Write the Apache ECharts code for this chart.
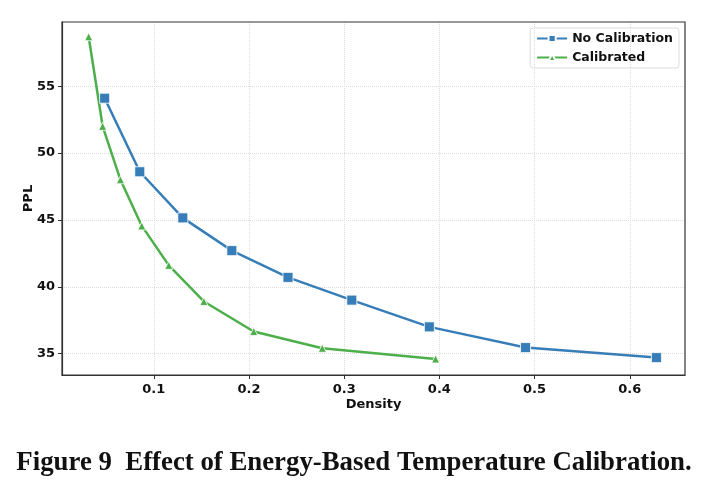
<!DOCTYPE html>
<html>
<head>
<meta charset="utf-8">
<script src="https://cdn.jsdelivr.net/npm/echarts@6/dist/echarts.min.js"></script>
<style>
  html, body { margin: 0; padding: 0; background: #fff; }
  #chart { width: 708px; height: 493px; }
</style>
</head>
<body>
<div id="chart"></div>
<script>
// values
const noCalibDensity = [0.0484, 0.0853, 0.1305, 0.182, 0.241, 0.308, 0.3895, 0.4905, 0.628];
const noCalibPPL = [54.1, 48.6, 45.15, 42.7, 40.7, 39.0, 37.0, 35.45, 34.7];
const calibDensity = [0.0316, 0.0463, 0.065, 0.0874, 0.1158, 0.1526, 0.205, 0.277, 0.396];
const calibPPL = [58.7, 52.0, 48.0, 44.55, 41.6, 38.9, 36.65, 35.4, 34.6];
const xTicks = [0.1, 0.2, 0.3, 0.4, 0.5, 0.6];
const yTicks = [35, 40, 45, 50, 55];

const chart = echarts.init(document.getElementById("chart"));

const font = "DejaVu Sans";
const zip = (xs, ys) => xs.map((x, i) => [x, ys[i]]);

const option = {
  animation: false,
  title: {
    text: "Figure 9  Effect of Energy-Based Temperature Calibration.",
    left: "center",
    top: 445,
    textStyle: {
      fontFamily: "Liberation Serif",
      fontWeight: "bold",
      fontSize: 26.8,
      color: "#111",
    },
  },
  legend: {
    right: 29,
    top: 28,
    orient: "vertical",
    itemWidth: 30,
    itemHeight: 9,
    itemGap: 6,
    padding: [4, 6, 4, 6],
    borderColor: "#ddd",
    borderWidth: 1,
    borderRadius: 3,
    textStyle: { fontFamily: font, fontWeight: "bold", fontSize: 12.5, color: "#111" },
    data: ["No Calibration", "Calibrated"],
  },
  grid: { left: 62, right: 23, top: 22, bottom: 118 },
  xAxis: {
    type: "value",
    min: 0.0036,
    max: 0.658,
    name: "Density",
    nameLocation: "middle",
    nameGap: 23,
    nameMoveOverlap: false,
    nameTextStyle: { fontFamily: font, fontWeight: "bold", fontSize: 13, color: "#111" },
    axisLine: { show: true, lineStyle: { color: "#333", width: 1.2 } },
    axisTick: { show: true, length: 4, customValues: xTicks, lineStyle: { color: "#333" } },
    axisLabel: {
      customValues: xTicks,
      fontFamily: font, fontWeight: "bold", fontSize: 13, color: "#111", margin: 8,
      formatter: (v) => v.toFixed(1),
    },
    splitLine: { show: true, lineStyle: { color: "#ddd", type: "dotted", width: 1 } },
  },
  yAxis: {
    type: "value",
    min: 33.4,
    max: 59.8,
    name: "PPL",
    nameLocation: "middle",
    nameGap: 27,
    nameMoveOverlap: false,
    nameTextStyle: { fontFamily: font, fontWeight: "bold", fontSize: 13, color: "#111" },
    axisLine: { show: true, lineStyle: { color: "#333", width: 1.2 } },
    axisTick: { show: true, length: 4, customValues: yTicks, lineStyle: { color: "#333" } },
    axisLabel: {
      customValues: yTicks,
      fontFamily: font, fontWeight: "bold", fontSize: 13, color: "#111", margin: 7,
    },
    splitLine: { show: true, lineStyle: { color: "#ddd", type: "dotted", width: 1 } },
  },
  series: [
    {
      name: "No Calibration",
      type: "line",
      data: zip(noCalibDensity, noCalibPPL),
      symbol: "rect",
      symbolSize: 10,
      showAllSymbol: true,
      lineStyle: { color: "#377eb8", width: 2.5 },
      itemStyle: { color: "#377eb8", borderColor: "#fff", borderWidth: 0.8 },
      z: 3,
    },
    {
      name: "Calibrated",
      type: "line",
      data: zip(calibDensity, calibPPL),
      symbol: "triangle",
      symbolSize: 8,
      showAllSymbol: true,
      lineStyle: { color: "#4daf4a", width: 2.5 },
      itemStyle: { color: "#4daf4a", borderColor: "#fff", borderWidth: 0.8 },
      z: 2,
    },
  ],
  graphic: [
    {
      type: "rect",
      shape: { x: 62, y: 22, width: 623, height: 353 },
      style: { fill: "none", stroke: "#333", lineWidth: 1.2 },
      silent: true,
      z: 10,
    },
  ],
};

chart.setOption(option);
</script>
</body>
</html>
